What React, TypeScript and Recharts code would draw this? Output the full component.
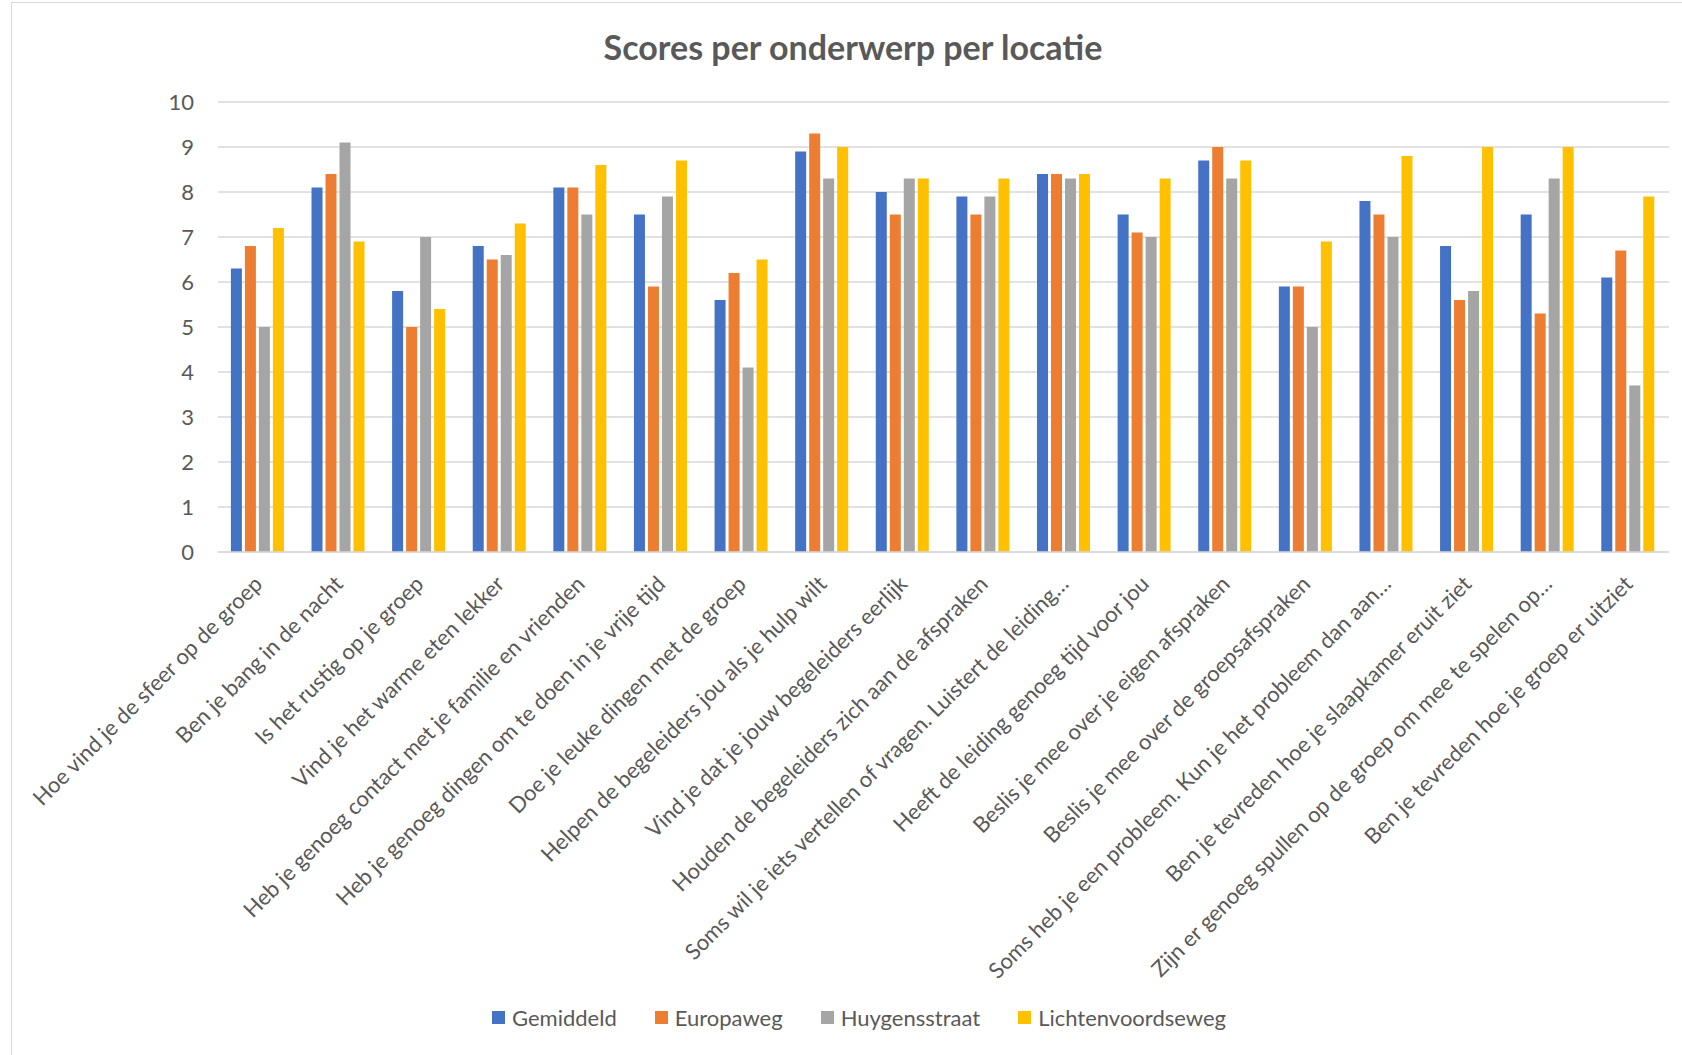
import React from 'react'
import { BarChart, Bar, XAxis, YAxis, CartesianGrid, Legend } from 'recharts'

const categories = [
  'Hoe vind je de sfeer op de groep',
  'Ben je bang in de nacht',
  'Is het rustig op je groep',
  'Vind je het warme eten lekker',
  'Heb je genoeg contact met je familie en vrienden',
  'Heb je genoeg dingen om te doen in je vrije tijd',
  'Doe je leuke dingen met de groep',
  'Helpen de begeleiders jou als je hulp wilt',
  'Vind je dat je jouw begeleiders eerlijk',
  'Houden de begeleiders zich aan de afspraken',
  'Soms wil je iets vertellen of vragen. Luistert de leiding…',
  'Heeft de leiding genoeg tijd voor jou',
  'Beslis je mee over je eigen afspraken',
  'Beslis je mee over de groepsafspraken',
  'Soms heb je een probleem. Kun je het probleem dan aan…',
  'Ben je tevreden hoe je slaapkamer eruit ziet',
  'Zijn er genoeg spullen op de groep om mee te spelen op…',
  'Ben je tevreden hoe je groep er uitziet',
]

const gemiddeld = [6.3, 8.1, 5.8, 6.8, 8.1, 7.5, 5.6, 8.9, 8.0, 7.9, 8.4, 7.5, 8.7, 5.9, 7.8, 6.8, 7.5, 6.1]
const europaweg = [6.8, 8.4, 5.0, 6.5, 8.1, 5.9, 6.2, 9.3, 7.5, 7.5, 8.4, 7.1, 9.0, 5.9, 7.5, 5.6, 5.3, 6.7]
const huygensstraat = [5.0, 9.1, 7.0, 6.6, 7.5, 7.9, 4.1, 8.3, 8.3, 7.9, 8.3, 7.0, 8.3, 5.0, 7.0, 5.8, 8.3, 3.7]
const lichtenvoordseweg = [7.2, 6.9, 5.4, 7.3, 8.6, 8.7, 6.5, 9.0, 8.3, 8.3, 8.4, 8.3, 8.7, 6.9, 8.8, 9.0, 9.0, 7.9]

const seriesNames = ['Gemiddeld', 'Europaweg', 'Huygensstraat', 'Lichtenvoordseweg']
const yTicks = [0, 1, 2, 3, 4, 5, 6, 7, 8, 9, 10]

const data = categories.map((name, i) => ({
  name,
  Gemiddeld: gemiddeld[i],
  Europaweg: europaweg[i],
  Huygensstraat: huygensstraat[i],
  Lichtenvoordseweg: lichtenvoordseweg[i],
}))

const FONT = 'Lato, "Open Sans", sans-serif'
const TEXT = '#595959'
const GRID = '#d9d9d9'

function XTick(props: any) {
  const { x, y, payload } = props
  return (
    <g transform={`translate(${x},${y + 26})`}>
      <text
        x={0}
        y={0}
        dy="0.35em"
        transform="rotate(-45)"
        textAnchor="end"
        fill={TEXT}
        fontSize={22}
        fontFamily={FONT}
      >
        {payload.value}
      </text>
    </g>
  )
}

function LegendContent(props: any) {
  const payload = props.payload || []
  // keep the series order, not the alphabetical one
  const items = seriesNames
    .map((n) => payload.find((p: any) => p.value === n))
    .filter(Boolean)
  return (
    <div style={{ display: 'flex', justifyContent: 'center', gap: 38, paddingLeft: 36 }}>
      {items.map((p: any) => (
        <div key={p.value} style={{ display: 'flex', alignItems: 'center' }}>
          <span style={{ width: 13, height: 13, background: p.color, marginRight: 7, display: 'inline-block' }} />
          <span style={{ fontFamily: FONT, fontSize: 22, color: TEXT }}>{p.value}</span>
        </div>
      ))}
    </div>
  )
}

export default function App() {
  return (
    <div style={{ position: 'absolute', left: 0, top: 0, width: 1682, height: 1055, background: '#fff', overflow: 'hidden' }}>
      <div style={{ position: 'absolute', left: 11, top: 2, width: 1680, height: 1060, border: `1.5px solid ${GRID}` }} />
      <div
        style={{
          position: 'absolute',
          left: 0,
          top: 26,
          width: 1706,
          textAlign: 'center',
          fontFamily: FONT,
          fontWeight: 700,
          fontSize: 34,
          color: TEXT,
          lineHeight: '42px',
        }}
      >
        Scores per onderwerp per locatie
      </div>
      <BarChart
        width={1682}
        height={1055}
        data={data}
        margin={{ top: 102, right: 13, left: 0, bottom: 0 }}
        barCategoryGap="16%"
        barGap={3}
      >
        <CartesianGrid vertical={false} stroke={GRID} strokeWidth={1.5} />
        <XAxis
          dataKey="name"
          interval={0}
          height={503}
          tickLine={false}
          tickSize={0}
          axisLine={{ stroke: GRID, strokeWidth: 1.5 }}
          tick={<XTick />}
        />
        <YAxis
          domain={[0, 10]}
          ticks={yTicks}
          width={218}
          axisLine={false}
          tickLine={false}
          tickSize={0}
          tickMargin={24}
          tick={{ fill: TEXT, fontSize: 22, fontFamily: FONT }}
        />
        <Legend
          verticalAlign="middle"
          layout="horizontal"
          content={<LegendContent />}
          wrapperStyle={{ top: 1004, left: 0, width: 1682 }}
        />
        {seriesNames.map((n, i) => (
          <Bar key={n} dataKey={n} fill={['#4472C4', '#ED7D31', '#A5A5A5', '#FFC000'][i]} isAnimationActive={false} />
        ))}
      </BarChart>
    </div>
  )
}
